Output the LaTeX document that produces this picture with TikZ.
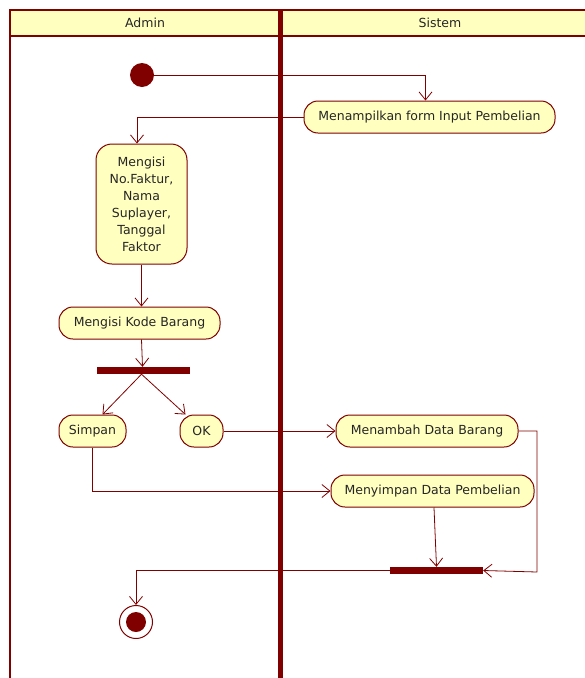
\documentclass[tikz,border=0pt]{standalone}
\usepackage{fontspec}
\setmainfont{DejaVu Sans}
\usetikzlibrary{arrows.meta}
\definecolor{dred}{HTML}{800000}
\definecolor{lyel}{HTML}{FFFFC0}
\begin{document}
\begin{tikzpicture}[x=1pt,y=-1pt,
  act/.style={draw=dred, fill=lyel, line width=1pt, rounded corners=14pt, minimum height=32pt, inner sep=0pt, font=\fontsize{12.5}{15}\selectfont, text=black!85},
  barnode/.style={fill=dred, draw=none, minimum width=93pt, minimum height=7pt, inner sep=0pt},
  flow/.style={draw=dred, line width=0.8pt, -{Straight Barb[length=8pt,width=13pt]}},
  hdr/.style={font=\fontsize{12.5}{15}\selectfont, text=black!85}]
\useasboundingbox (0,0) rectangle (585,678);
% swimlanes
\fill[lyel] (10,10) rectangle (585,36);
\draw[dred, line width=2pt] (10,678) -- (10,10) -- (585,10);
\draw[dred, line width=2pt] (10,36) -- (585,36);
\draw[dred, line width=5pt] (280,10) -- (280,678);
\node[hdr] (hadmin) at (145,23) {Admin};
\node[hdr] (hsistem) at (440,23) {Sistem};
% nodes
\node[circle, fill=dred, minimum size=24pt, inner sep=0pt] (start) at (142,75) {};
\node[act, minimum width=251pt] (show) at (429.5,117) {Menampilkan form Input Pembelian};
\node[act, minimum width=91pt, minimum height=120pt, rounded corners=16pt, align=center, font=\fontsize{12.5}{17}\selectfont] (isi) at (141.5,204) {Mengisi\\No.Faktur,\\Nama\\Suplayer,\\Tanggal\\Faktor};
\node[act, minimum width=161pt] (kode) at (139.5,323) {Mengisi Kode Barang};
\node[barnode] (bar1) at (143.5,370.5) {};
\node[act, minimum width=67pt] (simpan) at (92.5,431) {Simpan};
\node[act, minimum width=43pt] (ok) at (201.5,431) {OK};
\node[act, minimum width=182pt] (tambah) at (427,431) {Menambah Data Barang};
\node[act, minimum width=203pt] (simpandb) at (432.5,491) {Menyimpan Data Pembelian};
\node[barnode] (bar2) at (436.5,570.5) {};
\node[circle, draw=dred, fill=white, line width=1pt, minimum size=33pt, inner sep=0pt] (end) at (136,622) {};
\fill[dred] (end.center) circle (10pt);
\coordinate (rt) at (537,572);
% flows
\draw[flow] (start) -| ([xshift=-4pt]show.north);
\draw[flow] (show.west) -| ([xshift=-4.5pt]isi.north);
\draw[flow] (isi.south) -- (isi.south |- kode.north);
\draw[flow] ([xshift=2pt]kode.south) -- ([xshift=-1pt]bar1.north);
\draw[flow] ([xshift=-2pt]bar1.south) -- ([xshift=10pt]simpan.north);
\draw[flow] ([xshift=-2pt]bar1.south) -- ([xshift=-16pt]ok.north);
\draw[flow] (ok.east) -- (tambah.west);
\draw[flow] (simpan.south) |- (simpandb.west);
\draw[flow] ([xshift=1.5pt]simpandb.south) -- (bar2.north);
\draw[flow] (tambah.east) -| (rt) -- (bar2.east);
\draw[flow] (bar2.west) -| (end.north);
\end{tikzpicture}
\end{document}
